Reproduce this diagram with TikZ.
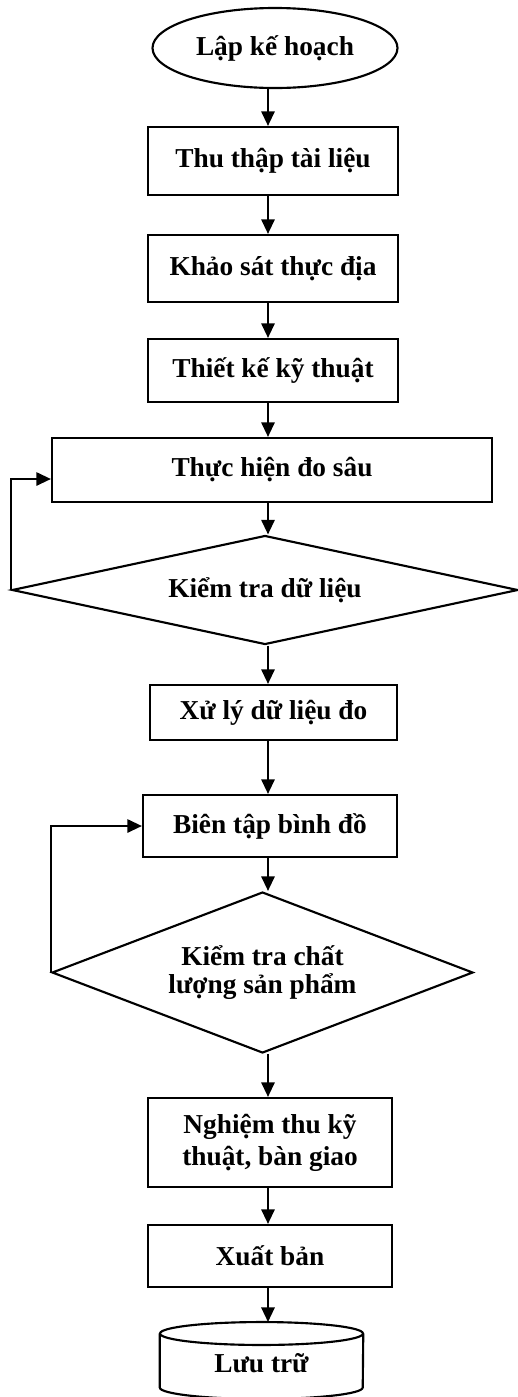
\documentclass[tikz,border=0pt]{standalone}
\usepackage{fontspec}
\setmainfont{Liberation Serif}
\usetikzlibrary{shapes.geometric,arrows.meta}
\begin{document}
\begin{tikzpicture}[x=0.75pt,y=-0.75pt,
  every node/.style={font=\bfseries\fontsize{20.5}{24}\selectfont, align=center, inner sep=2pt},
  stepbox/.style={draw, line width=1.6pt, rectangle},
  decbox/.style={draw, line width=1.6pt, diamond, inner sep=0pt},
  arr/.style={line width=1.6pt, -{Triangle[length=11pt,width=10pt]}}]
\useasboundingbox (0,0) rectangle (518,1397);
\coordinate (ax) at (268,0);
\node[draw, line width=1.6pt, ellipse, minimum width=183.75pt, minimum height=60pt] (ell) at (275,48) {Lập kế hoạch};
\node[stepbox, minimum width=187.5pt, minimum height=51pt] (b1) at (273,161) {Thu thập tài liệu};
\node[stepbox, minimum width=187.5pt, minimum height=50.25pt] (b2) at (273,268.5) {Khảo sát thực địa};
\node[stepbox, minimum width=187.5pt, minimum height=47.25pt] (b3) at (273,370.5) {Thiết kế kỹ thuật};
\node[stepbox, minimum width=330pt, minimum height=48pt] (b4) at (272,470) {Thực hiện đo sâu};
\node[decbox, aspect=4.64, minimum width=379.5pt, minimum height=81.75pt] (d1) at (265,590) {Kiểm tra dữ liệu};
\node[stepbox, minimum width=185.25pt, minimum height=41.25pt] (b5) at (273.5,712.5) {Xử lý dữ liệu đo};
\node[stepbox, minimum width=190.5pt, minimum height=46.5pt] (b6) at (270,826) {Biên tập bình đồ};
\node[decbox, aspect=2.615, minimum width=315.75pt, minimum height=120.75pt, font=\bfseries\fontsize{20.5}{20.5}\selectfont] (d2) at (262.5,972.5) {Kiểm tra chất\\lượng sản phẩm};
\node[stepbox, minimum width=183pt, minimum height=66.75pt] (b7) at (270,1142.5) {Nghiệm thu kỹ\\thuật, bàn giao};
\node[stepbox, minimum width=183pt, minimum height=46.5pt] (b8) at (270,1256) {Xuất bản};
\node[minimum width=152.25pt, inner sep=0pt] (cyl) at (261.5,1363) {Lưu trữ};
\coordinate (cyltop) at ([yshift=30.75pt]cyl.center);
\draw[line width=1.6pt] ([yshift=22.125pt]cyl.center) ellipse[x radius=76.125pt, y radius=8.6pt];
\draw[line width=1.6pt] ([yshift=22.125pt]cyl.west) -- ([yshift=-18.375pt]cyl.west)
  arc[start angle=180, end angle=360, x radius=76.125pt, y radius=8.6pt] -- ([yshift=22.125pt]cyl.east);
\draw[arr] (ell.south -| ax) -- (b1.north -| ax);
\draw[arr] (b1.south -| ax) -- (b2.north -| ax);
\draw[arr] (b2.south -| ax) -- (b3.north -| ax);
\draw[arr] (b3.south -| ax) -- (b4.north -| ax);
\draw[arr] (b4.south -| ax) -- (d1.north -| ax);
\draw[arr] (d1.south -| ax) -- (b5.north -| ax);
\draw[arr] (b5.south -| ax) -- (b6.north -| ax);
\draw[arr] (b6.south -| ax) -- (d2.north -| ax);
\draw[arr] (d2.south -| ax) -- (b7.north -| ax);
\draw[arr] (b7.south -| ax) -- (b8.north -| ax);
\draw[arr] (b8.south -| ax) -- (cyltop -| ax);
\coordinate (b4fb) at ([yshift=-6.75pt]b4.west);
\draw[arr] (d1.west) |- (b4fb);
\draw[arr] (d2.west) |- (b6.west);
\end{tikzpicture}
\end{document}
